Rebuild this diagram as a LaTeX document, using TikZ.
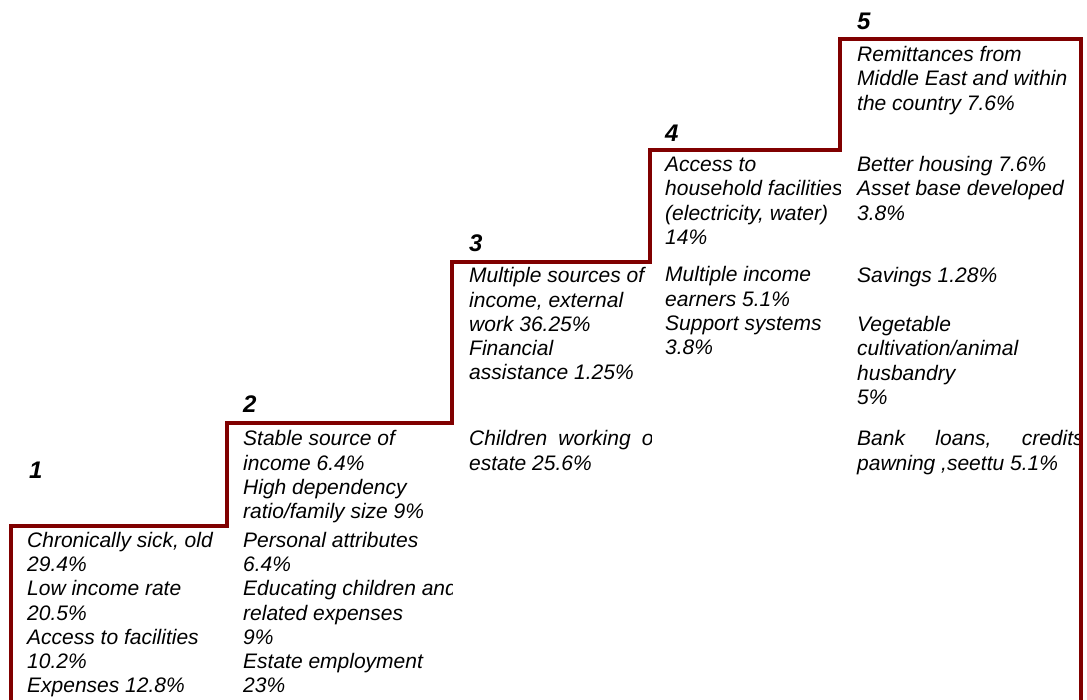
\documentclass[tikz,border=0pt]{standalone}
\usepackage{fontspec}
\setmainfont{Liberation Sans}
\definecolor{stairred}{RGB}{128,0,0}
\newcommand\bodyfont{\fontsize{21}{24.2}\selectfont\itshape}
\newcommand\numfont{\fontsize{24}{28}\selectfont\bfseries\itshape}
\newcommand\blk[1]{\parbox[t]{400pt}{\raggedright #1}}
\begin{document}
\begin{tikzpicture}[x=1pt,y=-1pt,
  stair/.style={draw=stairred, line width=4pt, line join=miter},
  txt/.style={anchor=base west, inner sep=0pt, font=\bodyfont},
  num/.style={anchor=base west, inner sep=0pt, font=\numfont}]
\useasboundingbox (0,0) rectangle (1087,700);
% column 1
\node[num] (n1) at (29,478) {1};
\node[txt] (c1) at (27,547.5) {\blk{Chronically sick, old\\29.4\%\\Low income rate\\20.5\%\\Access to facilities\\10.2\%\\Expenses 12.8\%}};
% column 2
\begin{scope}
\clip (230,0) rectangle (452,700);
\node[num] (n2) at (243,413) {2};
\node[txt] (c2a) at (243,446) {\blk{Stable source of\\income 6.4\%\\High dependency\\ratio/family size 9\%}};
\node[txt] (c2b) at (243,547.5) {\blk{Personal attributes\\6.4\%\\Educating children and\\related expenses\\9\%\\Estate employment\\23\%}};
\end{scope}
% column 3
\begin{scope}
\clip (455,0) rectangle (651,700);
\node[num] (n3) at (469,251.7) {3};
\node[txt] (c3a) at (469,283) {\blk{Multiple sources of\\income, external\\work 36.25\%\\Financial\\assistance 1.25\%}};
\node[txt] (c3b) at (469,446) {\blk{\leavevmode\hbox to 196pt{Children\hfill working\hfill on}\\estate 25.6\%}};
\end{scope}
% column 4
\begin{scope}
\clip (652,0) rectangle (840,700);
\node[num] (n4) at (665,141.7) {4};
\node[txt] (c4a) at (665,171.7) {\blk{Access to\\household facilities\\(electricity, water)\\14\%}};
\node[txt] (c4b) at (665,282) {\blk{Multiple income\\earners 5.1\%\\Support systems\\3.8\%}};
\end{scope}
% column 5
\begin{scope}
\clip (842,0) rectangle (1079,700);
\node[num] (n5) at (857,30) {5};
\node[txt] (c5a) at (857,61.7) {\blk{Remittances from\\Middle East and within\\the country 7.6\%}};
\node[txt] (c5b) at (857,171.7) {\blk{Better housing 7.6\%\\Asset base developed\\3.8\%}};
\node[txt] (c5c) at (857,283) {\blk{Savings 1.28\%}};
\node[txt] (c5d) at (857,331.7) {\blk{Vegetable\\cultivation/animal\\husbandry\\5\%}};
\node[txt] (c5e) at (857,446) {\blk{\leavevmode\hbox to 226.5pt{Bank\hfill loans,\hfill credits}\\pawning ,seettu 5.1\%}};
\end{scope}
% staircase
\draw[stair] (10.5,705) -- (10.5,525.5) -- (227,525.5) -- (227,423) -- (452,423)
  -- (452,262) -- (650,262) -- (650,150) -- (840,150) -- (840,39.5)
  -- (1081,39.5) -- (1081,705);
\end{tikzpicture}
\end{document}
